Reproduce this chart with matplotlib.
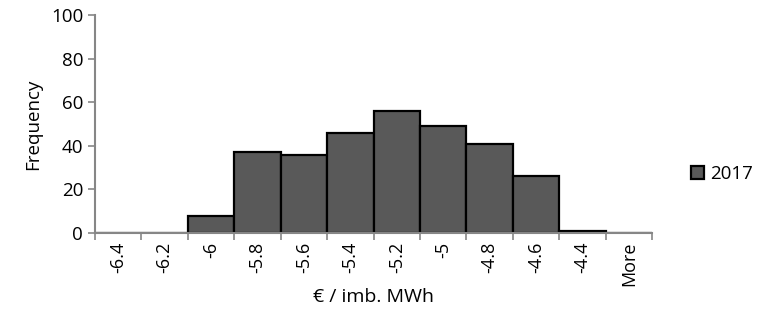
import matplotlib
matplotlib.use("Agg")
import matplotlib.pyplot as plt
import numpy as np

plt.rcParams['font.family'] = ['Open Sans', 'DejaVu Sans']

bins = ['-6.4', '-6.2', '-6', '-5.8', '-5.6', '-5.4', '-5.2', '-5',
        '-4.8', '-4.6', '-4.4', 'More']
freq = [0, 0, 8, 37, 36, 46, 56, 49, 41, 26, 1, 0]

fig = plt.figure(figsize=(7.57, 3.33), dpi=100)
ax = fig.add_axes([0.1255, 0.30, 0.736, 0.655])

x = np.arange(len(bins))
ax.bar(x, freq, width=1.0, color='#595959', edgecolor='black',
       linewidth=1.6, label='2017')

ax.set_xlim(-0.5, len(bins) - 0.5)
ax.set_ylim(0, 100)
ax.set_yticks(range(0, 101, 20))
ax.set_xticks(x)
ax.set_xticklabels(bins, rotation=90, fontsize=13)
ax.set_xticks(np.arange(-0.5, len(bins), 1.0), minor=True)
ax.tick_params(axis='x', which='major', length=0, pad=6)
ax.tick_params(axis='x', which='minor', length=5, color='#868686', width=1.2)
ax.tick_params(axis='y', length=5, color='#868686', width=1.2, labelsize=13.5)

for s in ['top', 'right']:
    ax.spines[s].set_visible(False)
for s in ['left', 'bottom']:
    ax.spines[s].set_color('#868686')
    ax.spines[s].set_linewidth(1.5)

ax.set_ylabel('Frequency', fontsize=13.5, labelpad=6)
ax.set_xlabel('€ / imb. MWh', fontsize=14)
ax.xaxis.set_label_coords(0.5, -0.25)

ax.legend(loc='center left', bbox_to_anchor=(1.04, 0.27), frameon=False,
          fontsize=13.5, handlelength=0.7, handleheight=0.7, handletextpad=0.3)

fig.savefig('out.png', dpi=100)
